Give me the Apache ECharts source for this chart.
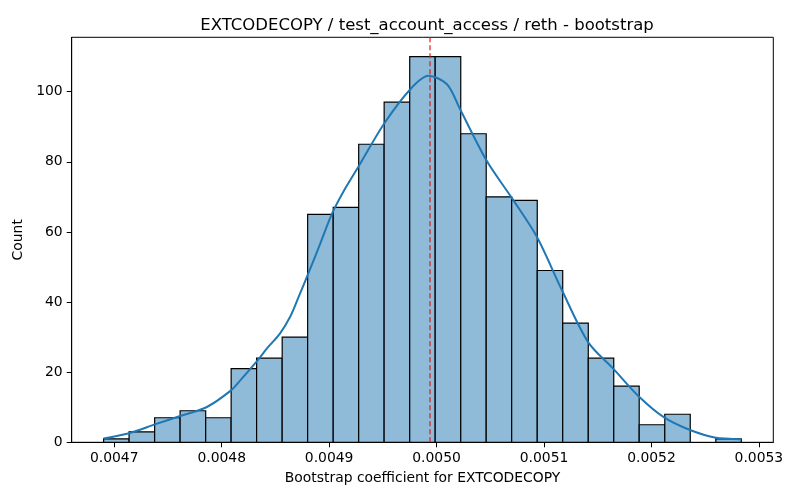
<!DOCTYPE html>
<html>
<head>
<meta charset="utf-8">
<script src="https://cdn.jsdelivr.net/npm/echarts@6/dist/echarts.min.js"></script>
<style>
  html, body { margin: 0; padding: 0; background: #fff; }
  #chart { width: 800px; height: 500px; }
</style>
</head>
<body>
<div id="chart"></div>
<script>
// histogram bin edges (26 edges -> 25 bins)
const binEdges = [
  0.0046901, 0.0047138, 0.0047376, 0.0047613, 0.0047851, 0.0048088,
  0.0048325, 0.0048563, 0.0048800, 0.0049038, 0.0049275, 0.0049512,
  0.0049750, 0.0049987, 0.0050225, 0.0050462, 0.0050699, 0.0050937,
  0.0051174, 0.0051412, 0.0051649, 0.0051886, 0.0052124, 0.0052361,
  0.0052599, 0.0052836
];
const binCounts = [
  1, 3, 7, 9, 7, 21, 24, 30, 65, 67, 85, 97, 110,
  110, 88, 70, 69, 49, 34, 24, 16, 5, 8, 0, 1
];
// kde curve
const kdeX = [
  0.0046901, 0.0047139, 0.0047378, 0.0047613, 0.0047858, 0.0048087,
  0.0048177, 0.0048332, 0.0048425, 0.0048542, 0.0048641, 0.0048718,
  0.0048811, 0.0048920, 0.0049028, 0.0049152, 0.0049275, 0.0049508,
  0.0049756, 0.0049926, 0.0050097, 0.0050220, 0.0050468, 0.0050700,
  0.0050932, 0.0051165, 0.0051412, 0.0051644, 0.0051885, 0.0052118,
  0.0052359, 0.0052588, 0.0052836
];
const kdeY = [
  1.1, 2.6, 5.1, 7.5, 10, 14.8,
  17.8, 23.3, 26.9, 31, 36, 41.6,
  48.5, 56.9, 65.3, 72.5, 78.7, 90.7,
  100.7, 104.5, 102.1, 94.9, 80.2, 69.7,
  58.7, 43.5, 28.5, 21, 13, 7.1,
  3.5, 1.4, 0.9
];
const meanValue = 0.0049939;
const xTicks = [0.0047, 0.0048, 0.0049, 0.005, 0.0051, 0.0052, 0.0053];
const yTicks = [0, 20, 40, 60, 80, 100];
const yMax = 115.5;

const chart = echarts.init(document.getElementById("chart"));

const barData = binCounts.map(function (c, i) {
  return [binEdges[i], binEdges[i + 1], c];
});
const kdeData = kdeX.map(function (x, i) {
  return [x, kdeY[i]];
});

const font = "DejaVu Sans";

const option = {
  animation: false,
  backgroundColor: "#fff",
  title: {
    text: "EXTCODECOPY / test_account_access / reth - bootstrap",
    left: 422,
    top: 12,
    textAlign: "center",
    textStyle: {
      fontFamily: font,
      fontSize: 16.5,
      fontWeight: "normal",
      color: "#000",
    },
  },
  grid: {
    left: 71.7,
    right: 26.7,
    top: 37.3,
    bottom: 57.7,
    show: true,
    borderColor: "#000",
    borderWidth: 1,
    backgroundColor: "transparent",
  },
  xAxis: {
    type: "value",
    min: 0.0046604,
    max: 0.0053134,
    name: "Bootstrap coefficient for EXTCODECOPY",
    nameLocation: "middle",
    nameGap: 29,
    nameTextStyle: { fontFamily: font, fontSize: 13.9, color: "#000" },
    axisLine: { show: true, lineStyle: { color: "#000", width: 1 } },
    axisTick: {
      show: true,
      length: 5,
      customValues: xTicks,
      lineStyle: { color: "#000" },
    },
    axisLabel: {
      customValues: xTicks,
      margin: 9,
      fontFamily: font,
      fontSize: 13.9,
      color: "#000",
      formatter: function (v) {
        return v.toFixed(4);
      },
    },
    splitLine: { show: false },
  },
  yAxis: {
    type: "value",
    min: 0,
    max: yMax,
    name: "Count",
    nameLocation: "middle",
    nameGap: 41,
    nameTextStyle: { fontFamily: font, fontSize: 13.9, color: "#000" },
    axisLine: { show: true, lineStyle: { color: "#000", width: 1 } },
    axisTick: {
      show: true,
      length: 5,
      customValues: yTicks,
      lineStyle: { color: "#000" },
    },
    axisLabel: {
      customValues: yTicks,
      margin: 9,
      fontFamily: font,
      fontSize: 13.9,
      color: "#000",
    },
    splitLine: { show: false },
  },
  series: [
    {
      name: "bins",
      type: "custom",
      data: barData,
      encode: { x: [0, 1], y: 2 },
      renderItem: function (params, api) {
        const p0 = api.coord([api.value(0), api.value(2)]);
        const p1 = api.coord([api.value(1), 0]);
        if (api.value(2) <= 0) return null;
        return {
          type: "rect",
          shape: {
            x: p0[0],
            y: p0[1],
            width: p1[0] - p0[0],
            height: p1[1] - p0[1],
          },
          style: {
            fill: "#8fbbd9",
            stroke: "#000",
            lineWidth: 1.2,
          },
        };
      },
      z: 2,
    },
    {
      name: "kde",
      type: "line",
      data: kdeData,
      smooth: 0.3,
      showSymbol: false,
      lineStyle: { color: "#1f77b4", width: 2 },
      z: 3,
    },
    {
      // mean marker
      name: "mean",
      type: "line",
      data: [
        [meanValue, 0],
        [meanValue, yMax],
      ],
      showSymbol: false,
      lineStyle: { color: "#e41a1c", type: [5, 3], width: 1.2 },
      z: 4,
    },
  ],
};

chart.setOption(option);
</script>
</body>
</html>
